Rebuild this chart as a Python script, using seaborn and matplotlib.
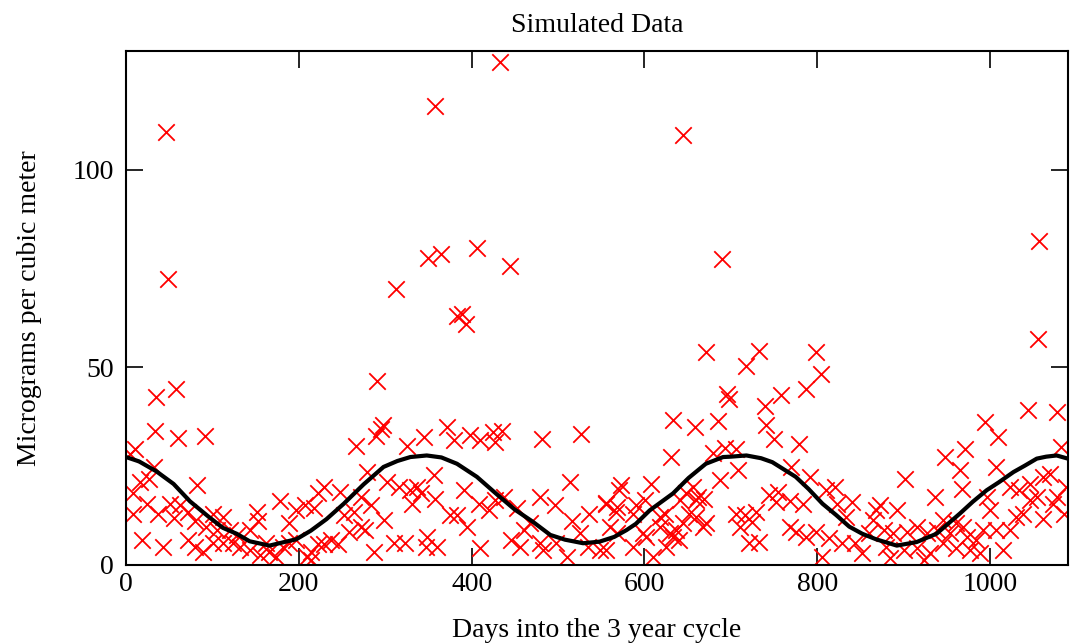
import pandas as pd
import matplotlib
matplotlib.use("Agg")
import matplotlib.pyplot as plt
import seaborn as sns

# Valores (dias, microgramas por m3)
d_peaks = [46, 49, 58, 35, 358, 433, 645, 1057, 1056, 312, 349, 365, 406, 444, 383, 389, 394, 690, 291]
c_peaks = [109.5, 72.3, 44.5, 42.4, 116, 127.3, 108.8, 82, 57.1, 69.8, 77.6, 78.6, 80.2, 75.6, 63, 63.5, 61, 77.3, 46.5]

d1 = [34, 60, 91, 10, 5, 32, 16, 26, 82, 8,
      24, 51, 62, 72, 8, 37, 55, 80, 93, 101,
      112, 105, 120, 128, 151, 153, 143, 178, 197, 207,
      189, 18, 43, 72, 80, 89, 112, 132, 143, 155,
      166, 174, 182, 189, 197, 209, 214, 162, 101, 124]
c1 = [33.9, 32.2, 32.7, 29.4, 28, 24.8, 21, 21.8, 20.2, 18.1,
      15.5, 15.5, 15.1, 13.4, 13, 13, 11.8, 11, 9.7, 13,
      12.2, 8.9, 8.9, 7.6, 13.5, 11, 8.9, 16.3, 13.8, 15.1,
      10.5, 6.3, 4.6, 6.3, 4.6, 3.4, 5.5, 4.6, 3.8, 2.5,
      3.4, 2.1, 4.6, 5.5, 6.3, 2.1, 3.4, 5.5, 5.5, 5.5]

d2 = [297, 295, 289, 266, 279, 302, 229, 222, 248, 272,
      283, 218, 252, 264, 298, 272, 277, 258, 237, 229,
      245, 287, 214, 325, 345, 372, 379, 398, 410, 425,
      427, 356, 316, 329, 337, 341, 331, 358, 391, 375,
      383, 395, 408, 420, 427, 310, 323, 348, 347, 360,
      410, 222]
c2 = [35.3, 34.4, 32.5, 30.2, 23.5, 21, 19.8, 18.1, 18.5, 17.2,
      15.1, 14.3, 12.6, 13.4, 11.3, 9.6, 8.8, 8.4, 6.3, 5.4,
      5.4, 3.4, 1.3, 30.2, 32.3, 34.8, 31.5, 32.8, 31.5, 33.6,
      31, 22.7, 19.8, 18.9, 19.8, 18.1, 15.5, 16.8, 18.9, 12.6,
      12.6, 9.6, 15.5, 13.8, 16.4, 5.5, 5.5, 7.1, 4.6, 4.6,
      4.2, 5.4]

d3 = [435, 481, 527, 633, 631, 514, 573, 608, 479, 496,
      452, 437, 536, 555, 567, 590, 601, 624, 641, 516,
      468, 460, 445, 456, 483, 498, 510, 525, 535, 548,
      568, 587, 602, 610, 618, 633, 645, 560, 479,
      571, 556, 568, 587, 618, 648, 660, 652, 668, 598,
      629, 637, 556, 640, 625]
c3 = [34, 31.9, 33.2, 36.6, 27.3, 21, 20.2, 20.6, 17.1, 15.1,
      14.3, 17.1, 13, 15.5, 13.4, 15.1, 16.4, 13, 16.4, 11,
      10.5, 8.8, 6.3, 4.6, 3.8, 5.5, 2.1, 8, 4.6, 3.8,
      8, 4.6, 7.1, 2.1, 9.6, 7.1, 10.5, 9.6, 5.5,
      18.9, 15.6, 14.7, 13, 12.2, 18.1, 16.4, 13, 9.6, 8,
      8, 8.8, 3.8, 6.3, 4.6]

d4 = [671, 733, 718, 798, 804, 787, 758, 696, 698, 739,
      685, 658, 741, 750, 779, 679, 693, 706, 708, 687,
      769, 791, 656, 662, 669, 660, 671, 744, 754, 752,
      768, 783, 810, 821, 823, 840, 833, 706, 716, 729,
      710, 725, 721, 733, 768, 775, 787, 798, 814, 829,
      806, 844, 852, 860, 868, 864]
c4 = [53.8, 54.2, 50.4, 53.8, 48.3, 44.5, 42.9, 43.3, 42, 40.2,
      36.5, 34.8, 35.3, 31.9, 30.7, 28.2, 29.6, 29.3, 23.9, 21.4,
      24.8, 22.3, 19.7, 17.2, 16.8, 12.2, 10.5, 17.6, 18.5, 15.9,
      16.3, 15.5, 18.9, 19.7, 15.5, 15.9, 12.2, 13, 12.6, 13.4,
      9.6, 10.9, 5.5, 5.9, 9.6, 8.4, 7.1, 8.4, 6.7, 5.5,
      2.1, 5.5, 3, 8, 13.9, 11.3]

d5 = [1044, 1077, 994, 1009, 971, 948, 902, 965, 1007, 1082,
      967, 936, 873, 892, 996, 1023, 1034, 1046, 1061, 1069,
      1054, 1077, 1088, 946, 961, 969, 1000, 992, 1007, 1030,
      1038, 1023, 1046, 1073, 1061, 1086, 877, 888, 904, 915,
      927, 938, 954, 973, 984, 880, 900, 915, 930, 946,
      961, 977, 988, 1015, 884, 923]
c5 = [39.1, 38.7, 36.1, 32.3, 29.4, 27.3, 21.8, 23.9, 24.8, 29.8,
      19.3, 17.2, 15.1, 13.9, 17.2, 19.7, 18.9, 20.6, 22.3, 23.1,
      17.2, 17.2, 19.7, 11.3, 10.5, 9.6, 13.9, 8.8, 8.8, 12.2,
      13, 8.8, 16.4, 15.5, 11.7, 13, 8.8, 8, 8.4, 9.6,
      8, 8.8, 8, 7.1, 6.3, 4.6, 3.8, 4.2, 3, 5.5,
      4.2, 3.8, 3, 3.8, 1.7, 1.3]

# Curva suavizada
curve_x = [0, 15, 35, 55, 74, 95, 112, 128, 143, 166, 185, 197, 214, 232, 252, 275, 298, 314,
           329, 348, 365, 383, 406, 429, 450, 471, 491, 508, 529, 548, 565, 579, 590, 606,
           633, 651, 671, 691, 700, 718, 735, 748, 775, 790, 806, 822, 837, 852,
           868, 880, 892, 915, 938, 965, 980, 996, 1010, 1027, 1040, 1054, 1065, 1077, 1090]
curve_y = [27.3, 26.2, 23.7, 20.5, 16.1, 12.3, 9.4, 7.9, 6.0, 4.9, 5.9, 6.5, 8.7, 11.6, 15.5, 20.4, 24.8, 26.3,
           27.3, 27.7, 27.2, 25.6, 22.3, 17.9, 14.0, 10.9, 7.6, 6.4, 5.5, 5.9, 7.1, 8.8, 10.4, 13.8,
           18.1, 22.0, 25.6, 27.3, 27.4, 27.7, 27.0, 26.0, 22.3, 19.2, 15.5, 12.6, 9.7, 7.9,
           6.5, 5.7, 4.9, 5.8, 7.9, 13.0, 16.0, 18.9, 20.9, 23.5, 25.1, 26.9, 27.4, 27.7, 26.9]

df = pd.DataFrame({
    'dia': d_peaks + d1 + d2 + d3 + d4 + d5,
    'conc': c_peaks + c1 + c2 + c3 + c4 + c5,
})
curva = pd.DataFrame({'dia': curve_x, 'conc': curve_y})

sns.set_style("ticks")
plt.rcParams['font.family'] = ['Liberation Serif', 'DejaVu Serif']
plt.rcParams['text.color'] = 'black'
plt.rcParams['axes.labelcolor'] = 'black'

fig, ax = plt.subplots(figsize=(10.7, 6.44), dpi=100)
fig.subplots_adjust(left=0.1178, right=0.998, bottom=0.1227, top=0.9208)

sns.scatterplot(data=df, x='dia', y='conc', marker='x', color='red', s=140,
                linewidth=1.3, legend=False, ax=ax)
sns.lineplot(data=curva, x='dia', y='conc', color='black', lw=3,
             estimator=None, sort=True, ax=ax)

ax.set_xlim(0, 1090)
ax.set_ylim(0, 130)
ax.set_xticks([0, 200, 400, 600, 800, 1000])
ax.set_yticks([0, 50, 100])
ax.tick_params(direction='in', length=12, width=1.2, top=True, right=True,
               labelsize=20, colors='black')
ax.tick_params(axis='x', pad=5)
ax.tick_params(axis='y', pad=9)
for s in ax.spines.values():
    s.set_linewidth(1.5)
    s.set_color('black')

ax.set_title('Simulated Data', fontsize=20, pad=14, color='black')
ax.set_xlabel('Days into the 3 year cycle', fontsize=20, labelpad=15)
ax.set_ylabel('Micrograms per cubic meter', fontsize=20, labelpad=22)

fig.savefig('out.png', dpi=100)
